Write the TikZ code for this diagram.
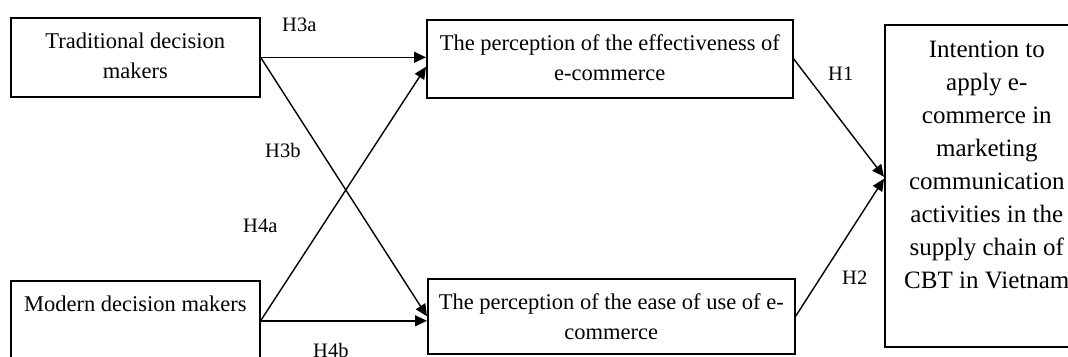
\documentclass[tikz,border=0pt]{standalone}
\usepackage{fontspec}
\setmainfont{Liberation Serif}
\usetikzlibrary{arrows.meta,positioning}

% text set from the top of a box
\newcommand{\boxlines}[3]{\parbox[c][#2][t]{#1}{\vspace*{10pt}\centering\strut #3}}

\begin{document}
\begin{tikzpicture}[x=1pt, y=-1pt,
    block/.style={rectangle, draw, line width=1.6pt, inner sep=0pt, anchor=north west, font=\fontsize{22.5}{30}\selectfont},
    hyp/.style={anchor=base west, inner sep=0pt, font=\fontsize{20.5}{24}\selectfont},
    arrow/.style={-{Triangle[length=12pt,width=11pt]}, line width=1.4pt}]

    \useasboundingbox (0,0) rectangle (1068,356);
    \clip (0,0) rectangle (1068,356);

    \node[block] (trad) at (10,17) {\boxlines{249pt}{79pt}{Traditional decision\\ makers}};
    \node[block] (modern) at (10,280) {\boxlines{249pt}{80pt}{Modern decision makers}};
    \node[block] (eff) at (426,19) {\boxlines{366pt}{78pt}{The perception of the effectiveness of\\ e-commerce}};
    \node[block] (ease) at (427,278) {\boxlines{367pt}{75pt}{The perception of the ease of use of e-\\ commerce}};
    \node[block, font=\fontsize{25}{33}\selectfont] (intent) at (884,24) {\boxlines{204pt}{322pt}{Intention to\\ apply e-\\ commerce in\\ marketing\\ communication\\ activities in the\\ supply chain of\\ CBT in Vietnam}};

    \draw[arrow] (trad.east) -- (trad.east -| eff.west);
    \draw[arrow] (trad.east) -- (ease.west);
    \draw[arrow] (modern.east) -- ([yshift=-8pt]eff.west);
    \draw[arrow] (modern.east) -- (modern.east -| ease.west);
    \draw[arrow] (eff.east) -- ([yshift=9pt]intent.west);
    \draw[arrow] (ease.east) -- ([yshift=7pt]intent.west);

    \node[hyp] (h3a) at (282,31) {H3a};
    \node[hyp] (h3b) at (265,157) {H3b};
    \node[hyp] (h4a) at (243,232) {H4a};
    \node[hyp] (h4b) at (313,357) {H4b};
    \node[hyp] (h1) at (828,80) {H1};
    \node[hyp] (h2) at (842,284) {H2};
\end{tikzpicture}
\end{document}
